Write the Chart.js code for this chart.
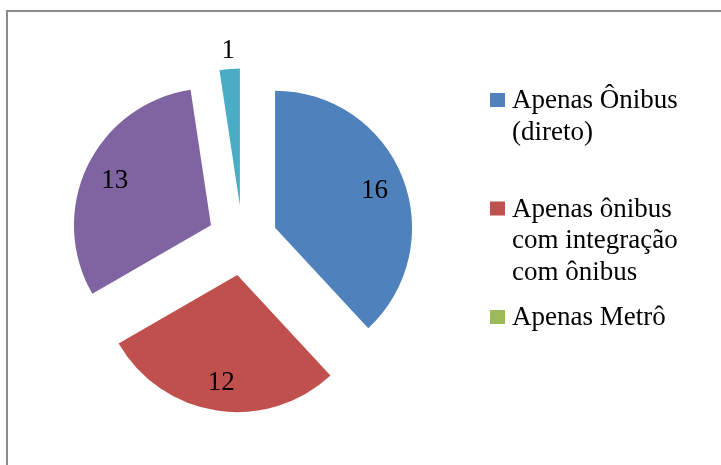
<!DOCTYPE html>
<html>
<head>
<meta charset="utf-8">
<script src="https://cdn.jsdelivr.net/npm/chart.js@4.4.1/dist/chart.umd.min.js"></script>
<style>
  html, body { margin: 0; padding: 0; background: #fff; overflow: hidden; }
</style>
</head>
<body>
<canvas id="chart" width="721" height="465"></canvas>
<script>
const categories = [
  'Apenas Ônibus (direto)',
  'Apenas ônibus com integração com ônibus',
  'Apenas Metrô',
  'Ônibus e Metrô',
  'Outros'
];
const values = [16, 12, 0, 13, 1];
const colors = ['#4F81BD', '#C0504D', '#9BBB59', '#8064A2', '#4BACC6'];
const legendShown = 3; // legend in the original is cut off after 3 items

const FONT = '27px "Liberation Serif", "DejaVu Serif", serif';
const R = 137;       // pie radius
const EXPLODE = 35;  // how far each slice is pulled out

// chart.js's own arc offset also shrinks thin slices, so move each arc's
// centre out along its bisector instead
const explode = {
  id: 'explode',
  beforeDatasetsDraw(chart) {
    const area = chart.chartArea;
    const cx = (area.left + area.right) / 2;
    const cy = (area.top + area.bottom) / 2;
    chart.getDatasetMeta(0).data.forEach(a => {
      const mid = (a.startAngle + a.endAngle) / 2;
      a.x = cx + Math.cos(mid) * EXPLODE;
      a.y = cy + Math.sin(mid) * EXPLODE;
    });
  }
};

const frame = {
  id: 'frame',
  beforeDraw(chart) {
    const ctx = chart.ctx;
    ctx.save();
    ctx.strokeStyle = '#8c8c8c';
    ctx.lineWidth = 2;
    ctx.beginPath();
    ctx.moveTo(7, 465);
    ctx.lineTo(7, 11);
    ctx.lineTo(721, 11);
    ctx.stroke();
    ctx.restore();
  }
};

const sliceLabels = {
  id: 'sliceLabels',
  afterDatasetsDraw(chart) {
    const ctx = chart.ctx;
    ctx.save();
    ctx.font = FONT;
    ctx.fillStyle = '#000';
    ctx.textAlign = 'center';
    ctx.textBaseline = 'alphabetic';
    chart.getDatasetMeta(0).data.forEach((a, i) => {
      if (!values[i]) return;
      const mid = (a.startAngle + a.endAngle) / 2;
      const d = a.circumference < 0.3 ? R + 20 : R * 0.78;
      const x = a.x + Math.cos(mid) * d;
      const y = a.y + Math.sin(mid) * d;
      ctx.fillText(String(values[i]), x, y + 9);
    });
    ctx.restore();
  }
};

function wrap(ctx, text, maxW) {
  const words = text.split(' ');
  const lines = [];
  let cur = '';
  words.forEach(w => {
    const t = cur ? cur + ' ' + w : w;
    if (cur && ctx.measureText(t).width > maxW) {
      lines.push(cur);
      cur = w;
    } else {
      cur = t;
    }
  });
  if (cur) lines.push(cur);
  return lines;
}

const sideLegend = {
  id: 'sideLegend',
  afterDraw(chart) {
    const ctx = chart.ctx;
    ctx.save();
    ctx.font = FONT;
    ctx.textAlign = 'left';
    ctx.textBaseline = 'alphabetic';
    let base = 108;
    for (let i = 0; i < legendShown; i++) {
      ctx.fillStyle = colors[i];
      ctx.fillRect(490, base - 15, 15, 14);
      ctx.fillStyle = '#000';
      wrap(ctx, categories[i], 190).forEach((line, j) => {
        ctx.fillText(line, 512, base + j * 31.5);
      });
      base += 108.5;
    }
    ctx.restore();
  }
};

new Chart(document.getElementById('chart'), {
  type: 'pie',
  data: {
    labels: categories,
    datasets: [{
      data: values,
      backgroundColor: colors,
      borderWidth: 0,
      radius: R
    }]
  },
  options: {
    responsive: false,
    animation: false,
    events: [],
    layout: { padding: { left: 20, right: 256, top: 30, bottom: 14 } },
    plugins: {
      legend: { display: false },
      tooltip: { enabled: false }
    }
  },
  plugins: [frame, explode, sliceLabels, sideLegend]
});
</script>
</body>
</html>
